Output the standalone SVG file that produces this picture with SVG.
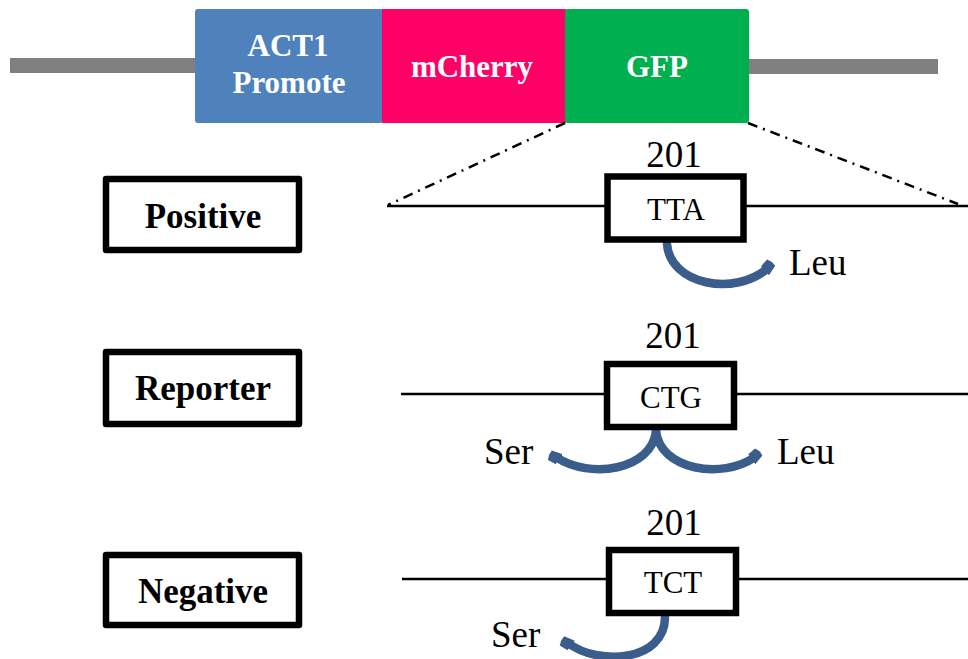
<svg xmlns="http://www.w3.org/2000/svg" width="968" height="659" viewBox="0 0 968 659">
<style>
.t{font-family:"Liberation Serif","Times New Roman",serif;fill:#000}
.w{font-family:"Liberation Serif","Times New Roman",serif;fill:#fff;font-weight:bold;font-size:31px;text-anchor:middle}
.lbl{fill:#fff;stroke:#000;stroke-width:6.5;stroke-linejoin:round}
.codon{fill:#fff;stroke:#000;stroke-width:6.5}
.seq{stroke:#000;stroke-width:2.5;fill:none}
.dd{stroke:#000;stroke-width:2.5;fill:none;stroke-dasharray:10 6 2 6}
.arc{stroke:#3a5d8b;stroke-width:8.5;fill:none;stroke-linecap:round;marker-end:url(#ah)}
.big{font-size:37px}
.cd{font-size:31px;text-anchor:middle}
.lb{font-size:35px;font-weight:bold;text-anchor:middle}
</style>
<defs>
<marker id="ah" viewBox="-4 -8 12 16" markerWidth="12" markerHeight="16" refX="0" refY="0" orient="auto" markerUnits="userSpaceOnUse">
<path d="M-4,-6 L5,-7 L7,-2 L7,3 L-4,6 z" fill="#3a5d8b"/>
</marker>
</defs>
<rect width="968" height="659" fill="#fff"/>
<g id="construct">
<rect x="10" y="58" width="186" height="15" fill="#808080"/>
<rect x="747" y="59" width="191" height="15" fill="#808080"/>
<rect x="195" y="9" width="188" height="114" rx="3" fill="#4f81bd"/>
<rect x="382" y="9" width="184" height="114" fill="#ff0066"/>
<rect x="565" y="9" width="184" height="114" rx="3" fill="#00b050"/>
<text class="w" x="288" y="56">ACT1</text>
<text class="w" x="289" y="93">Promote</text>
<text class="w" x="472" y="77">mCherry</text>
<text class="w" x="657" y="77">GFP</text>
</g>
<g id="connectors">
<path class="dd" d="M565,123 L388,205"/>
<path class="dd" d="M748,123 L958,204"/>
<path class="seq" d="M387,206 H968"/>
<path class="seq" d="M401,394 H968"/>
<path class="seq" d="M402,579 H968"/>
<path class="arc" d="M667,244 C670,285 735,297 768,268"/>
<path class="arc" d="M656,431 C652,470 590,480 556,457"/>
<path class="arc" d="M656,431 C660,470 722,480 755,457"/>
<path class="arc" d="M665,617 C665,662 598,666 568,643"/>
</g>
<g id="positive">
<rect class="lbl" x="106" y="179" width="193" height="71"/>
<text class="t lb" x="203" y="228">Positive</text>
</g>
<g id="reporter">
<rect class="lbl" x="106" y="352" width="193" height="72"/>
<text class="t lb" x="203" y="400">Reporter</text>
</g>
<g id="negative">
<rect class="lbl" x="106" y="555" width="193" height="70"/>
<text class="t lb" x="203" y="603">Negative</text>
</g>
<g id="codon-tta">
<text class="t big" x="674" y="167" text-anchor="middle">201</text>
<rect class="codon" x="607.5" y="176.5" width="136" height="63"/>
<text class="t cd" x="676" y="220">TTA</text>
<text class="t big" x="789" y="275">Leu</text>
</g>
<g id="codon-ctg">
<text class="t big" x="673" y="348" text-anchor="middle">201</text>
<rect class="codon" x="607" y="364" width="127" height="63"/>
<text class="t cd" x="671" y="408">CTG</text>
<text class="t big" x="484" y="464">Ser</text>
<text class="t big" x="777" y="464">Leu</text>
</g>
<g id="codon-tct">
<text class="t big" x="674" y="535" text-anchor="middle">201</text>
<rect class="codon" x="609" y="550" width="127" height="63"/>
<text class="t cd" x="673" y="593">TCT</text>
<text class="t big" x="491" y="647">Ser</text>
</g>
</svg>
